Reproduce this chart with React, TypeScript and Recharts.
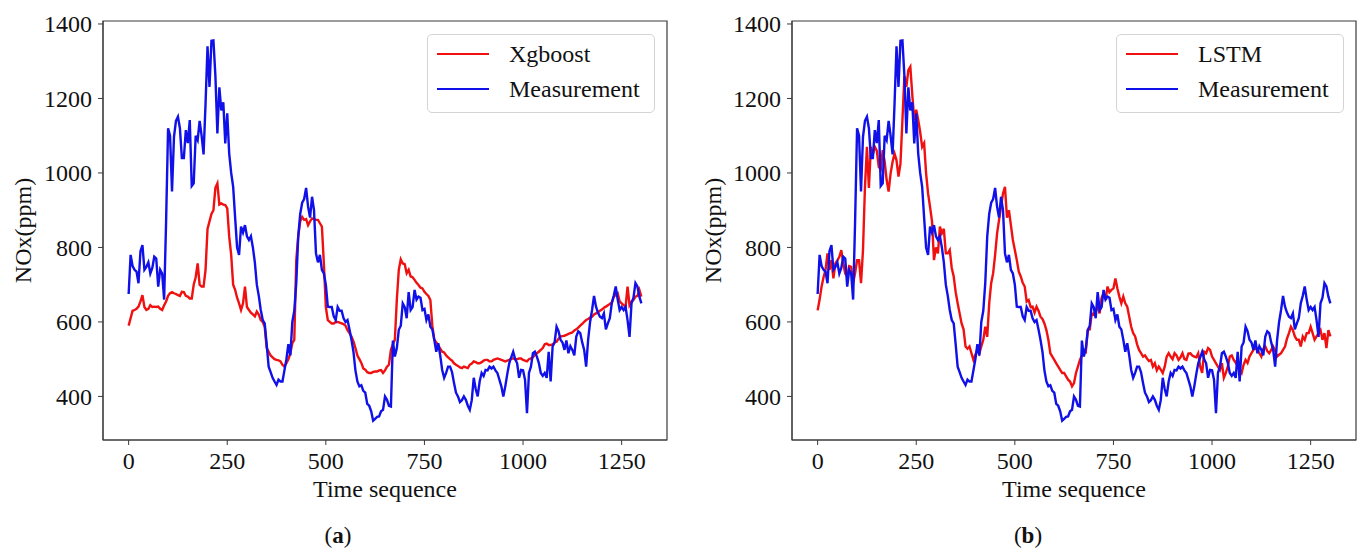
import React from "react";
import { LineChart, Line, XAxis, YAxis, Legend, ReferenceArea } from "recharts";

// time index, read every 5 steps
const timeSeq = [
  0, 5, 10, 15, 20, 25, 30, 35, 40, 45,
  50, 55, 60, 65, 70, 75, 80, 85, 90, 95,
  100, 105, 110, 115, 120, 125, 130, 135, 140, 145,
  150, 155, 160, 165, 170, 175, 180, 185, 190, 195,
  200, 205, 210, 215, 220, 225, 230, 235, 240, 245,
  250, 255, 260, 265, 270, 275, 280, 285, 290, 295,
  300, 305, 310, 315, 320, 325, 330, 335, 340, 345,
  350, 355, 360, 365, 370, 375, 380, 385, 390, 395,
  400, 405, 410, 415, 420, 425, 430, 435, 440, 445,
  450, 455, 460, 465, 470, 475, 480, 485, 490, 495,
  500, 505, 510, 515, 520, 525, 530, 535, 540, 545,
  550, 555, 560, 565, 570, 575, 580, 585, 590, 595,
  600, 605, 610, 615, 620, 625, 630, 635, 640, 645,
  650, 655, 660, 665, 670, 675, 680, 685, 690, 695,
  700, 705, 710, 715, 720, 725, 730, 735, 740, 745,
  750, 755, 760, 765, 770, 775, 780, 785, 790, 795,
  800, 805, 810, 815, 820, 825, 830, 835, 840, 845,
  850, 855, 860, 865, 870, 875, 880, 885, 890, 895,
  900, 905, 910, 915, 920, 925, 930, 935, 940, 945,
  950, 955, 960, 965, 970, 975, 980, 985, 990, 995,
  1000, 1005, 1010, 1015, 1020, 1025, 1030, 1035, 1040, 1045,
  1050, 1055, 1060, 1065, 1070, 1075, 1080, 1085, 1090, 1095,
  1100, 1105, 1110, 1115, 1120, 1125, 1130, 1135, 1140, 1145,
  1150, 1155, 1160, 1165, 1170, 1175, 1180, 1185, 1190, 1195,
  1200, 1205, 1210, 1215, 1220, 1225, 1230, 1235, 1240, 1245,
  1250, 1255, 1260, 1265, 1270, 1275, 1280, 1285, 1290, 1295,
  1300,
];

const measurement = [
  675, 780, 750, 740, 735, 704, 790, 806, 740, 748,
  760, 730, 745, 775, 770, 695, 740, 730, 660, 870,
  1120, 1100, 950, 1097, 1140, 1151, 1120, 1040, 1040, 1115,
  1080, 1142, 965, 972, 1100, 1088, 1140, 1100, 1050, 1186,
  1340, 1231, 1355, 1356, 1260, 1106, 1230, 1168, 1190, 1079,
  1160, 1052, 1000, 963, 880, 800, 780, 856, 840, 860,
  830, 820, 830, 800, 760, 700, 670, 632, 605, 596,
  540, 480, 465, 450, 440, 431, 445, 440, 440, 470,
  500, 540, 510, 600, 630, 704, 830, 890, 920, 930,
  960, 909, 880, 936, 900, 784, 760, 780, 740, 730,
  700, 641, 640, 640, 615, 605, 640, 630, 630, 610,
  600, 605, 580, 552, 520, 470, 440, 427, 430, 415,
  410, 380, 375, 360, 335, 340, 345, 346, 360, 364,
  400, 391, 375, 373, 550, 507, 530, 579, 590, 650,
  640, 610, 680, 632, 640, 686, 660, 668, 665, 632,
  635, 605, 620, 587, 580, 552, 520, 543, 510, 471,
  450, 463, 480, 480, 465, 436, 410, 400, 385, 390,
  400, 391, 375, 364, 390, 450, 420, 400, 440, 463,
  455, 471, 470, 480, 475, 480, 470, 463, 445, 427,
  400, 427, 460, 489, 505, 520, 500, 489, 450, 471,
  470, 445, 355, 463, 480, 516, 520, 507, 490, 463,
  455, 463, 450, 520, 440, 534, 545, 587, 575, 552,
  545, 525, 550, 516, 535, 525, 510, 561, 575, 570,
  545, 525, 480, 552, 600, 632, 670, 641, 625, 614,
  610, 623, 580, 596, 610, 650, 670, 695, 660, 632,
  640, 632, 640, 605, 560, 650, 665, 704, 695, 668,
  650,
];

const xgboost = [
  590, 610, 630, 632, 635, 641, 655, 672, 640, 632,
  635, 645, 640, 641, 640, 641, 635, 632, 645, 655,
  670, 677, 680, 677, 675, 672, 670, 681, 680, 670,
  668, 663, 663, 700, 720, 757, 700, 695, 695, 740,
  850, 870, 890, 900, 960, 972, 915, 918, 915, 914,
  905, 829, 780, 700, 686, 665, 650, 632, 650, 695,
  640, 632, 625, 620, 615, 628, 620, 605, 600, 587,
  530, 520, 510, 505, 500, 498, 497, 494, 485, 480,
  489, 500, 516, 543, 552, 766, 830, 870, 882, 874,
  876, 860, 870, 878, 876, 874, 874, 865, 856, 757,
  640, 605, 600, 596, 596, 600, 600, 598, 596, 594,
  590, 578, 570, 561, 548, 530, 510, 500, 490, 475,
  472, 465, 463, 463, 466, 467, 467, 470, 471, 463,
  470, 480, 485, 525, 540, 552, 660, 740, 768, 757,
  755, 731, 740, 722, 720, 713, 705, 699, 692, 690,
  681, 675, 670, 659, 590, 552, 545, 538, 528, 520,
  518, 510, 505, 500, 496, 489, 485, 482, 478, 476,
  480, 478, 476, 485, 488, 494, 492, 489, 489, 492,
  496, 498, 498, 494, 494, 498, 500, 502, 500, 498,
  496, 494, 496, 498, 502, 502, 500, 500, 502, 502,
  498, 496, 494, 500, 502, 505, 512, 516, 520, 525,
  530, 540, 542, 538, 538, 540, 545, 547, 555, 561,
  562, 563, 565, 568, 570, 572, 577, 580, 585, 590,
  595, 600, 605, 608, 612, 614, 620, 623, 626, 630,
  633, 638, 641, 645, 648, 652, 668, 672, 677, 655,
  650, 645, 641, 695, 645, 655, 659, 668, 670, 686,
  668,
];

const lstm = [
  631, 660, 695, 720, 740, 784, 740, 766, 717, 757,
  765, 775, 793, 757, 730, 722, 750, 748, 704, 731,
  766, 766, 704, 793, 963, 1070, 960, 1070, 1050, 1070,
  1060, 1016, 1010, 1061, 1030, 981, 950, 999, 1030, 1052,
  1034, 990, 1025, 1142, 1260, 1231, 1276, 1285, 1210, 1142,
  1170, 1142, 1110, 1070, 1080, 999, 945, 909, 870, 766,
  800, 784, 856, 838, 850, 784, 784, 793, 745, 722,
  680, 650, 623, 596, 580, 534, 528, 534, 516, 498,
  512, 525, 515, 534, 552, 587, 560, 650, 704, 731,
  780, 838, 874, 909, 945, 963, 880, 900, 860, 820,
  793, 766, 735, 722, 705, 695, 655, 659, 640, 641,
  625, 641, 630, 614, 608, 596, 578, 552, 516, 507,
  498, 489, 480, 471, 463, 463, 454, 445, 440, 427,
  436, 463, 480, 498, 510, 525, 520, 578, 580, 623,
  620, 632, 640, 623, 665, 677, 660, 695, 680, 686,
  690, 717, 690, 668, 650, 668, 650, 641, 614, 587,
  570, 561, 540, 525, 516, 507, 510, 502, 495, 498,
  480, 489, 470, 480, 472, 463, 480, 507, 516, 507,
  500, 516, 510, 498, 505, 516, 500, 498, 515, 516,
  510, 507, 505, 516, 480, 463, 520, 516, 530, 525,
  507, 498, 489, 480, 471, 489, 450, 463, 480, 507,
  510, 498, 490, 498, 471, 463, 485, 498, 490, 507,
  516, 525, 530, 525, 516, 507, 528, 534, 522, 516,
  525, 534, 522, 507, 512, 516, 525, 534, 555, 570,
  587, 578, 561, 552, 552, 534, 561, 552, 570, 570,
  587, 570, 552, 561, 570, 578, 552, 570, 530, 578,
  561,
];

const xTicks = [0, 250, 500, 750, 1000, 1250];
const yTicks = [400, 600, 800, 1000, 1200, 1400];

const chartData = timeSeq.map((t, i) => ({
  t,
  measurement: measurement[i],
  xgboost: xgboost[i],
  lstm: lstm[i],
}));

const FONT = '"Liberation Serif", "Times New Roman", serif';
const AXIS_COLOR = "#3a3a3a";
const TEXT_COLOR = "#111";
const RED = "#f01010";
const BLUE = "#1010e8";

function LegendBox({ predName }: { predName: string }) {
  const items = [
    { name: predName, color: RED },
    { name: "Measurement", color: BLUE },
  ];
  return (
    <div
      style={{
        width: 228,
        height: 79,
        boxSizing: "border-box",
        border: "1px solid #d4d4d4",
        borderRadius: 5,
        background: "rgba(255,255,255,0.8)",
        position: "relative",
        fontFamily: FONT,
        fontSize: 24,
        color: TEXT_COLOR,
      }}
    >
      {items.map((e, i) => (
        <div
          key={e.name}
          style={{
            position: "absolute",
            left: 9,
            top: 4 + i * 34.5,
            height: 30,
            display: "flex",
            alignItems: "center",
            whiteSpace: "nowrap",
          }}
        >
          <span style={{ display: "inline-block", width: 52, height: 2, background: e.color }} />
          <span style={{ marginLeft: 20, lineHeight: "30px" }}>{e.name}</span>
        </div>
      ))}
    </div>
  );
}

interface PanelProps {
  predKey: string;
  predName: string;
  caption: string;
  left: number;
  width: number;
  marginLeft: number;
  marginRight: number;
}

function Panel({ predKey, predName, caption, left, width, marginLeft, marginRight }: PanelProps) {
  const plotLeft = marginLeft + 90;
  const plotWidth = width - marginLeft - marginRight - 90;
  const tickStyle = { fill: TEXT_COLOR, fontSize: 24, fontFamily: FONT };

  const xLabel = () => (
    <g fontFamily={FONT} fill={TEXT_COLOR}>
      <text x={plotLeft + plotWidth / 2} y={497} textAnchor="middle" fontSize={24}>
        Time sequence
      </text>
      <text x={338} y={543} textAnchor="middle" fontSize={23}>
        (<tspan fontWeight="bold">{caption}</tspan>)
      </text>
    </g>
  );

  const yLabel = () => (
    <text
      x={22.5}
      y={230.5}
      transform="rotate(-90 22.5 230.5)"
      textAnchor="middle"
      dominantBaseline="central"
      fontFamily={FONT}
      fontSize={24}
      fill={TEXT_COLOR}
    >
      NOx(ppm)
    </text>
  );

  return (
    <div style={{ position: "absolute", left, top: 0 }}>
      <LineChart
        width={width}
        height={549}
        data={chartData}
        margin={{ top: 21, right: marginRight, bottom: 49, left: marginLeft }}
      >
        <XAxis
          dataKey="t"
          type="number"
          domain={[-65, 1365]}
          ticks={xTicks}
          interval={0}
          allowDataOverflow
          height={60}
          tickSize={5}
          tickMargin={7}
          stroke={AXIS_COLOR}
          tick={tickStyle}
          label={{ content: xLabel }}
        />
        <YAxis
          type="number"
          domain={[283, 1408]}
          ticks={yTicks}
          interval={0}
          allowDataOverflow
          width={90}
          tickSize={5}
          tickMargin={6}
          stroke={AXIS_COLOR}
          tick={tickStyle}
          label={{ content: yLabel }}
        />
        <ReferenceArea
          x1={-65}
          x2={1365}
          y1={283}
          y2={1408}
          fill="none"
          stroke={AXIS_COLOR}
          strokeWidth={1.2}
          fillOpacity={0}
        />
        <Line
          type="linear"
          dataKey={predKey}
          name={predName}
          stroke={RED}
          strokeWidth={2.4}
          dot={false}
          isAnimationActive={false}
        />
        <Line
          type="linear"
          dataKey="measurement"
          name="Measurement"
          stroke={BLUE}
          strokeWidth={2.4}
          dot={false}
          isAnimationActive={false}
        />
        <Legend
          layout="vertical"
          align="center"
          verticalAlign="middle"
          wrapperStyle={{ left: plotLeft + plotWidth - 240, top: 34, width: 228, height: 79 }}
          content={() => <LegendBox predName={predName} />}
        />
      </LineChart>
    </div>
  );
}

export default function App() {
  return (
    <div style={{ position: "absolute", left: 0, top: 0, width: 1362, height: 549, background: "#fff" }}>
      <Panel
        predKey="xgboost"
        predName="Xgboost"
        caption="a"
        left={0}
        width={690}
        marginLeft={13}
        marginRight={23}
      />
      <Panel
        predKey="lstm"
        predName="LSTM"
        caption="b"
        left={690}
        width={672}
        marginLeft={12}
        marginRight={6}
      />
    </div>
  );
}
